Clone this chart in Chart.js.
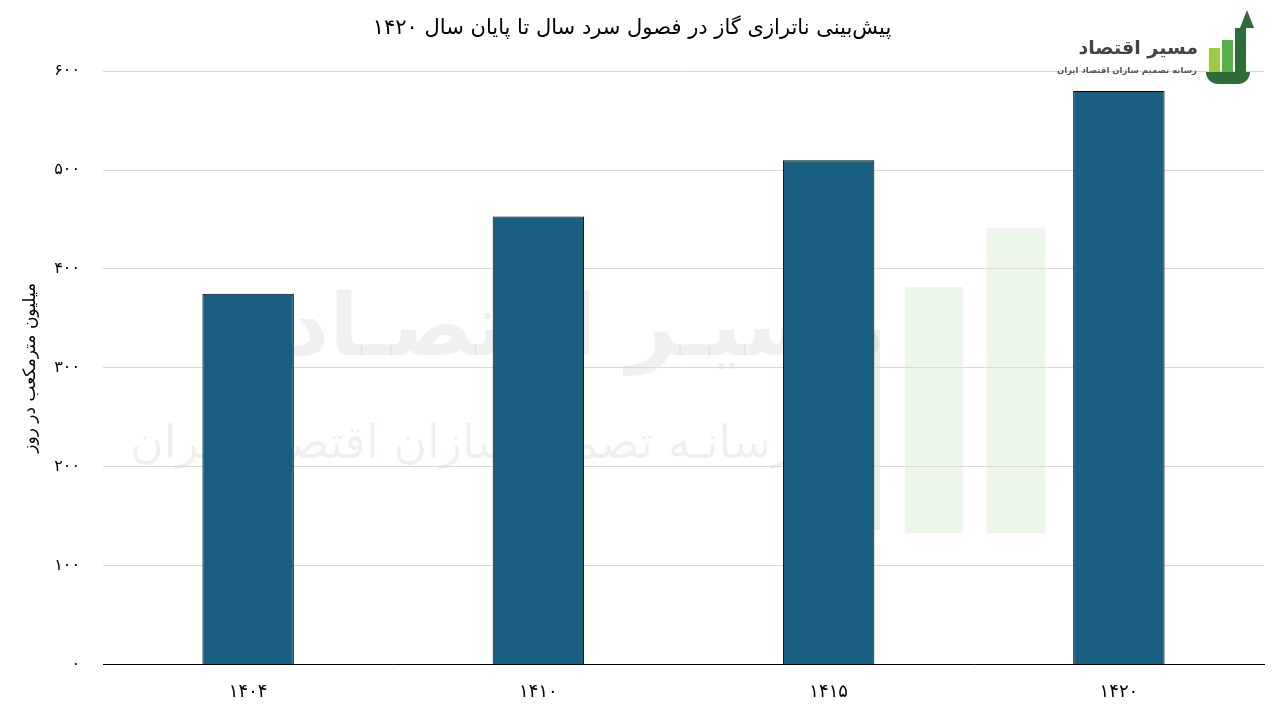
<!DOCTYPE html>
<html lang="fa">
<head>
<meta charset="utf-8">
<title>پیش‌بینی ناترازی گاز</title>
<script src="https://cdn.jsdelivr.net/npm/chart.js@4"></script>
<style>
  html, body { margin: 0; padding: 0; background: #fff; }
  #wrap { position: relative; width: 1280px; height: 720px; overflow: hidden; }
  #chart { position: absolute; left: 0; top: 0; z-index: 2; }
  .wm { position: absolute; font-family: "DejaVu Sans", sans-serif; direction: rtl; white-space: nowrap; z-index: 1; }
  .logo { position: absolute; z-index: 3; }
</style>
</head>
<body>
<div id="wrap">
  <!-- watermark -->
  <div class="wm" style="left:285px; top:275px; font-size:86px; font-weight:bold; color:rgba(0,0,0,0.06);">مسیـر اقتصـاد</div>
  <div class="wm" style="left:130px; top:415px; font-size:46px; color:rgba(0,0,0,0.06);">رسانـه تصمیم سازان اقتصـاد ایران</div>
  <div class="wm" style="left:905px; top:287px; width:58px; height:246px; background:rgba(120,190,100,0.14);"></div>
  <div class="wm" style="left:987px; top:228px; width:58px; height:305px; background:rgba(120,190,100,0.14);"></div>
  <div class="wm" style="left:830px; top:330px; width:50px; height:200px; background:rgba(60,110,60,0.10);"></div>

  <canvas id="chart" width="1280" height="720"></canvas>

  <!-- logo top right -->
  <div class="logo" style="left:1209px; top:48px; width:11px; height:24px; background:#9ccc44;"></div>
  <div class="logo" style="left:1222px; top:40px; width:11px; height:32px; background:#55b04a;"></div>
  <div class="logo" style="left:1235px; top:28px; width:11px; height:44px; background:#2e6d3a;"></div>
  <div class="logo" style="left:1240px; top:10px; width:0; height:0; border-left:7px solid transparent; border-right:7px solid transparent; border-bottom:18px solid #2e6d3a;"></div>
  <div class="logo" style="left:1206px; top:72px; width:44px; height:12px; background:#2e6d3a; border-radius:0 0 22px 22px;"></div>
  <div class="logo wm" style="right:82px; top:36px; font-size:19px; font-weight:bold; color:#444; z-index:3;">مسیر اقتصاد</div>
  <div class="logo wm" style="right:83px; top:65px; font-size:8.5px; font-weight:bold; color:#555; z-index:3;">رسانه تصمیم سازان اقتصاد ایران</div>
</div>

<script>
// داده‌ها
const years = ['۱۴۰۴', '۱۴۱۰', '۱۴۱۵', '۱۴۲۰'];
const imbalance = [375, 453, 510, 580]; // میلیون مترمکعب در روز
const yTickLabels = ['۰', '۱۰۰', '۲۰۰', '۳۰۰', '۴۰۰', '۵۰۰', '۶۰۰'];

const chartTitle = 'پیش‌بینی ناترازی گاز در فصول سرد سال تا پایان سال ۱۴۲۰';
const yTitle = 'میلیون مترمکعب در روز';

Chart.defaults.font.family = '"DejaVu Sans", sans-serif';
Chart.defaults.color = '#000';

const gasData = {
  labels: years,
  datasets: [{
    data: imbalance,
    backgroundColor: '#185f81',
    borderColor: '#000',
    borderWidth: 1,
    categoryPercentage: 1,
    barPercentage: 0.315
  }]
};

const gasConfig = {
  type: 'bar',
  data: gasData,
  options: {
    responsive: false,
    animation: false,
    layout: {
      padding: { left: 0, right: 16, top: 0, bottom: 0 }
    },
    plugins: {
      legend: { display: false },
      tooltip: { enabled: false },
      title: {
        display: true,
        text: chartTitle,
        color: '#000',
        font: { size: 21, weight: 'normal' },
        padding: { top: 16, bottom: 30 }
      }
    },
    scales: {
      x: {
        grid: { display: false, drawTicks: false },
        border: { display: true, color: '#000', width: 1 },
        ticks: { padding: 17, font: { size: 18 }, color: '#000' }
      },
      y: {
        min: 0,
        max: 600,
        grid: { color: '#d9d9d9', drawTicks: false },
        border: { display: false },
        ticks: {
          stepSize: 100,
          padding: 23,
          font: { size: 16 },
          color: '#000',
          callback: function(value) { return yTickLabels[value / 100]; }
        },
        title: {
          display: true,
          text: yTitle,
          color: '#000',
          font: { size: 17 },
          padding: { top: 20, bottom: 0 }
        },
        afterFit: function(scale) { scale.width = 103; }
      }
    }
  }
};

const gasChart = new Chart(document.getElementById('chart'), gasConfig);
</script>
</body>
</html>
